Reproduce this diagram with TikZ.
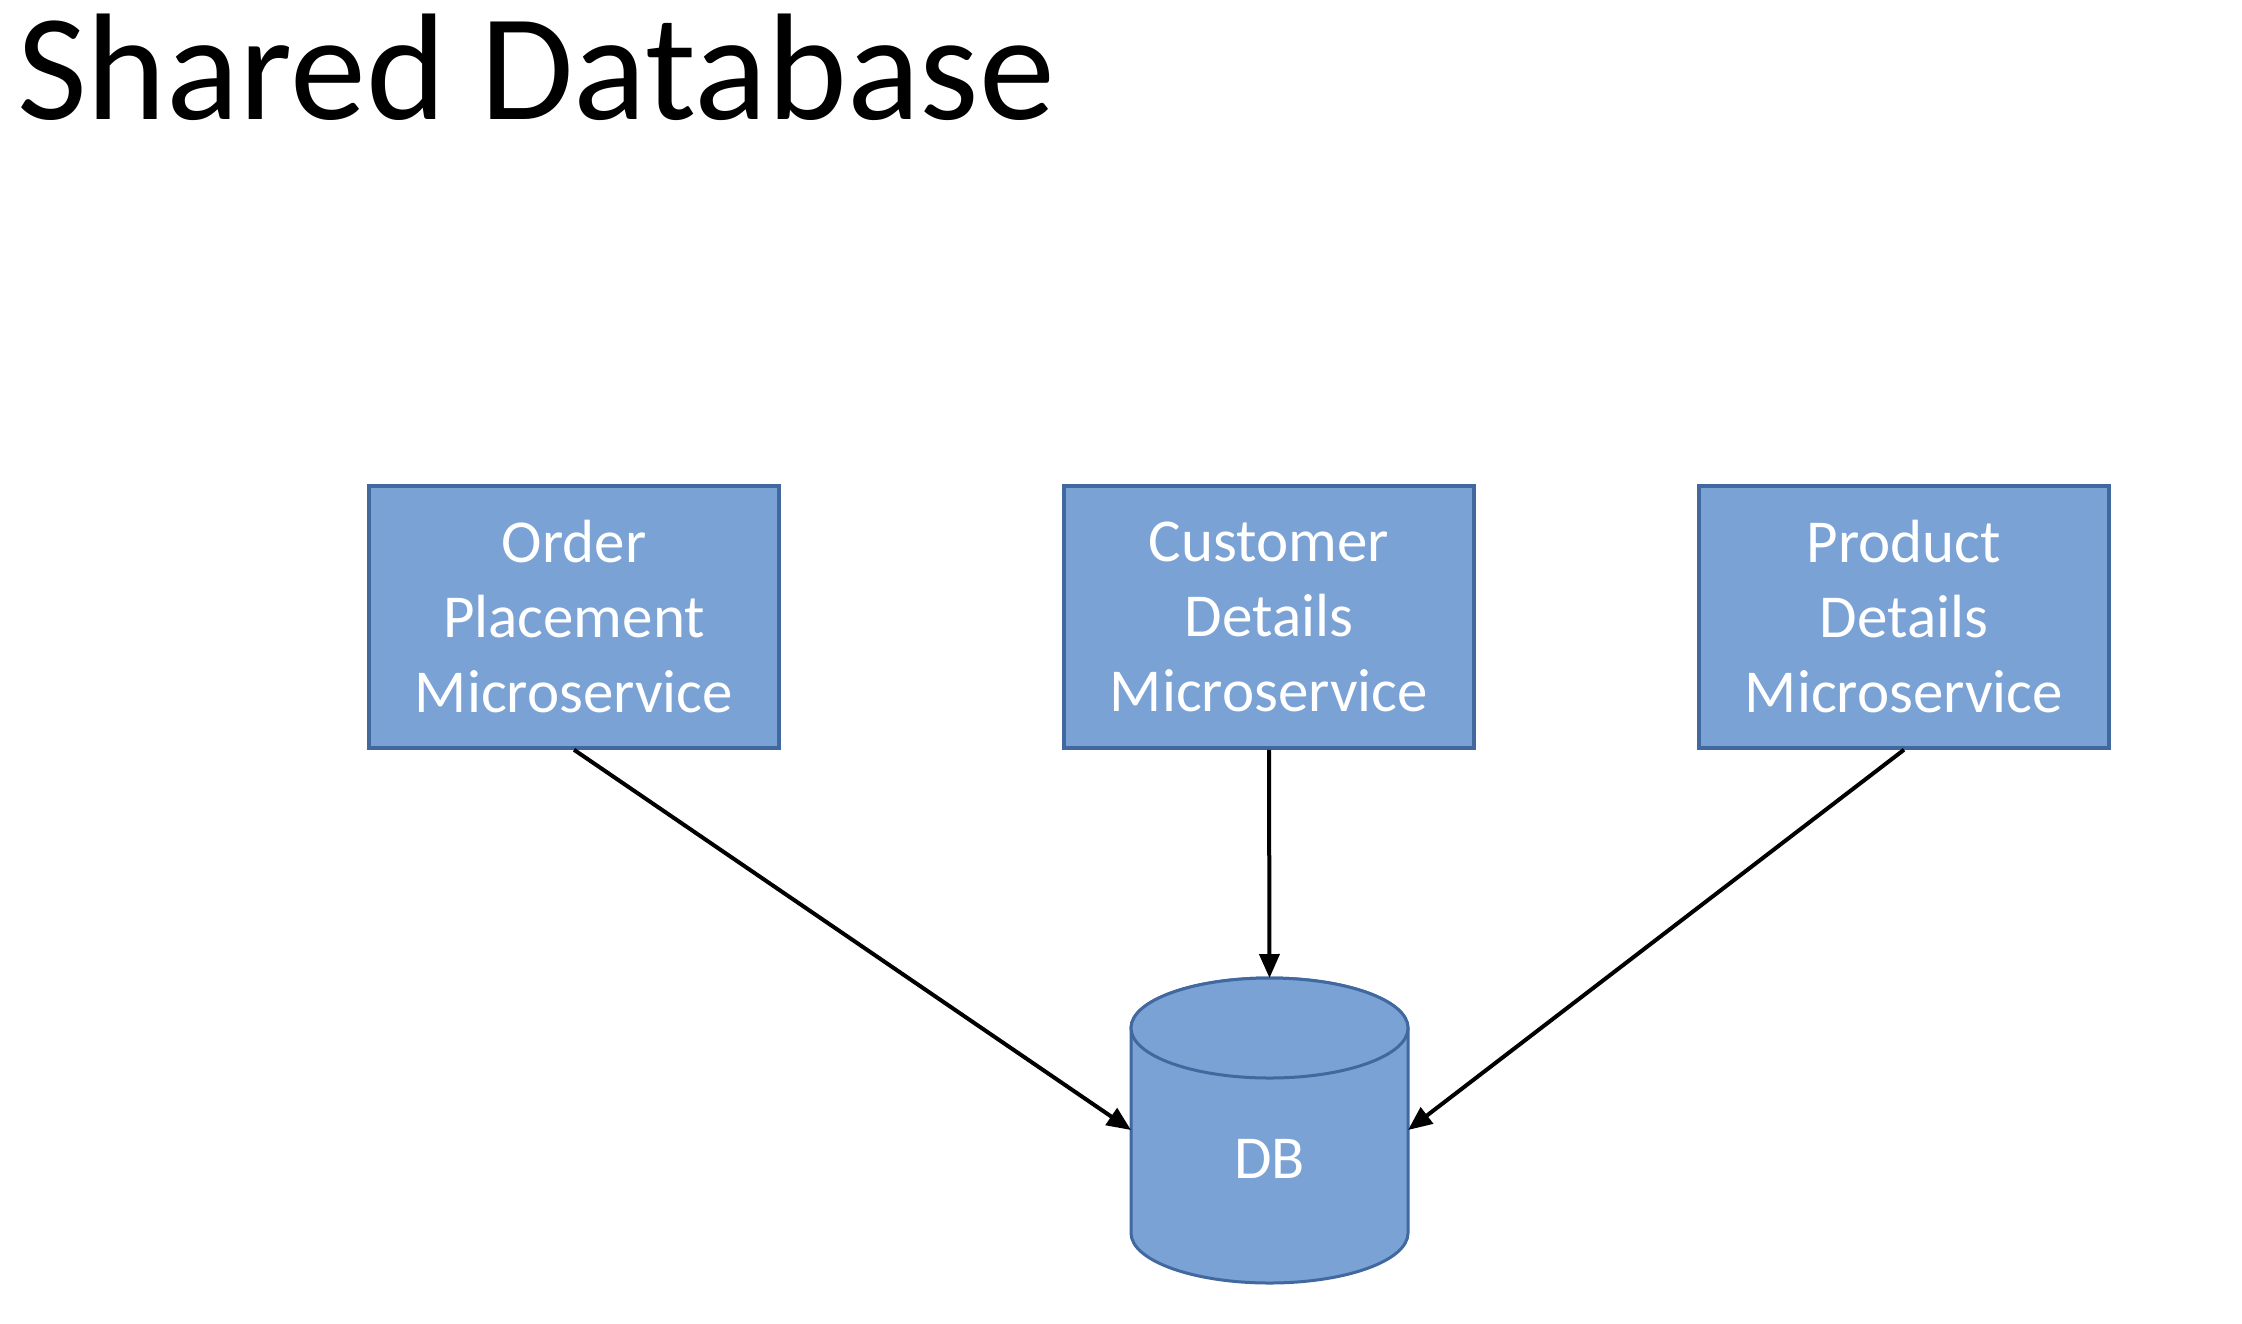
\documentclass[tikz,border=0pt]{standalone}
\usepackage{fontspec}
\setmainfont{Carlito}
\usetikzlibrary{arrows.meta}
\definecolor{boxfill}{RGB}{122,162,212}
\definecolor{boxline}{RGB}{65,105,160}
\tikzset{
  svcbox/.style={draw=boxline, line width=3.5pt, fill=boxfill, minimum width=410pt, minimum height=262pt,
    inner sep=0pt, align=center, text=white, font=\fontsize{61pt}{75pt}\selectfont},
  dbshape/.style={draw=boxline, line width=3pt, fill=boxfill},
  conn/.style={line width=4pt, draw=black, -{Triangle[length=24pt,width=20pt]}}
}
\begin{document}
\begin{tikzpicture}[x=1pt,y=1pt]
\path[use as bounding box, fill=white] (0,0) rectangle (2242,-1323);
\node[anchor=base west, inner sep=0pt, font=\fontsize{152pt}{180pt}\selectfont] (title) at (17,-119) {Shared Database};

\node[svcbox] (order) at (574,-617) {Order\\Placement\\Microservice};
\node[svcbox] (cust) at (1269,-617) {Customer\\Details\\Microservice};
\node[svcbox] (prod) at (1904,-617) {Product\\Details\\Microservice};

% cylinder
\draw[dbshape] (1131,-1028) -- (1131,-1233) arc[start angle=180, end angle=360, x radius=138.5, y radius=50]
  -- (1408,-1028) arc[start angle=0, end angle=180, x radius=138.5, y radius=50] -- cycle;
\draw[dbshape] (1269.5,-1028) ellipse [x radius=138.5, y radius=50];
\node[text=white, font=\fontsize{61pt}{75pt}\selectfont, inner sep=0pt, anchor=base] (db) at (1269.5,-1178) {DB};
\coordinate (dbtop) at (1269.5,-978);
\coordinate (dbleft) at (1131,-1130);
\coordinate (dbright) at (1408,-1130);

\draw[conn] (order.south) -- (dbleft);
\draw[conn] (cust.south) -- (dbtop);
\draw[conn] (prod.south) -- (dbright);
\end{tikzpicture}
\end{document}
